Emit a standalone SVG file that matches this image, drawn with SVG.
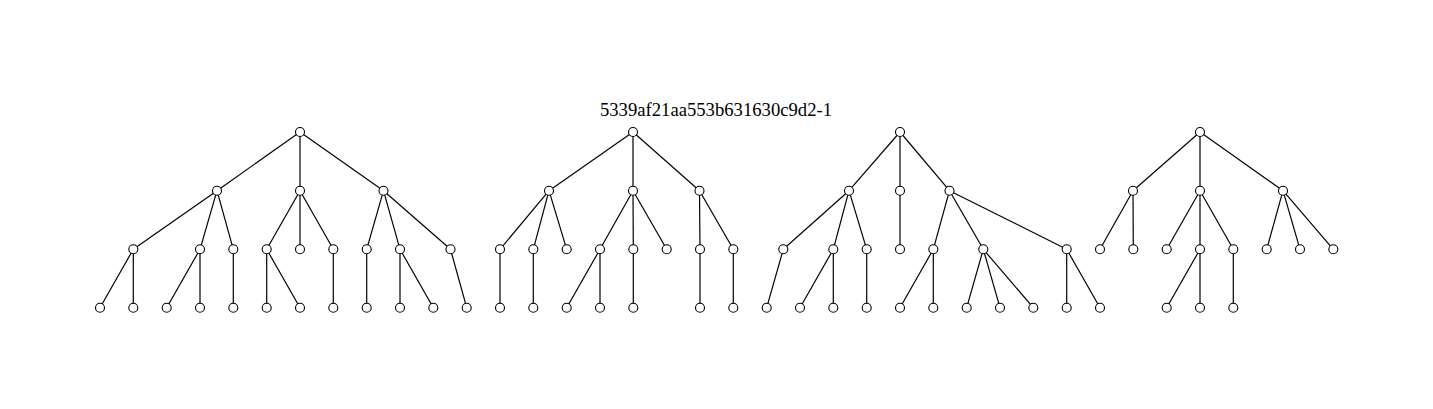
<svg xmlns="http://www.w3.org/2000/svg" width="1433" height="409" viewBox="0 0 1433 409">
<style>
.e line{stroke:#000;stroke-width:1.2;fill:none}
circle{fill:#fff;stroke:#000;stroke-width:1.1}
.t{font-family:"Liberation Serif","Times New Roman",serif;font-size:18.67px;fill:#000}
</style>
<rect width="1433" height="409" fill="#fff"/>
<text class="t" x="716" y="115.5" text-anchor="middle">5339af21aa553b631630c9d2-1</text>
<g class="e" id="connectors">
<!-- tree 1 -->
<line x1="300" y1="132" x2="217" y2="190.7"/>
<line x1="300" y1="132" x2="300" y2="190.7"/>
<line x1="300" y1="132" x2="383.5" y2="190.7"/>
<line x1="217" y1="190.7" x2="133.3" y2="249.3"/>
<line x1="217" y1="190.7" x2="200" y2="249.3"/>
<line x1="217" y1="190.7" x2="233.3" y2="249.3"/>
<line x1="300" y1="190.7" x2="266.7" y2="249.3"/>
<line x1="300" y1="190.7" x2="300" y2="249.3"/>
<line x1="300" y1="190.7" x2="333.3" y2="249.3"/>
<line x1="383.5" y1="190.7" x2="366.7" y2="249.3"/>
<line x1="383.5" y1="190.7" x2="400" y2="249.3"/>
<line x1="383.5" y1="190.7" x2="450.5" y2="249.3"/>
<line x1="133.3" y1="249.3" x2="100" y2="307.7"/>
<line x1="133.3" y1="249.3" x2="133.3" y2="307.7"/>
<line x1="200" y1="249.3" x2="166.7" y2="307.7"/>
<line x1="200" y1="249.3" x2="200" y2="307.7"/>
<line x1="233.3" y1="249.3" x2="233.3" y2="307.7"/>
<line x1="266.7" y1="249.3" x2="266.7" y2="307.7"/>
<line x1="266.7" y1="249.3" x2="300" y2="307.7"/>
<line x1="333.3" y1="249.3" x2="333.3" y2="307.7"/>
<line x1="366.7" y1="249.3" x2="366.7" y2="307.7"/>
<line x1="400" y1="249.3" x2="400" y2="307.7"/>
<line x1="400" y1="249.3" x2="433.3" y2="307.7"/>
<line x1="450.5" y1="249.3" x2="466.7" y2="307.7"/>
<!-- tree 2 -->
<line x1="633" y1="132" x2="549" y2="190.7"/>
<line x1="633" y1="132" x2="633" y2="190.7"/>
<line x1="633" y1="132" x2="699.5" y2="190.7"/>
<line x1="549" y1="190.7" x2="500" y2="249.3"/>
<line x1="549" y1="190.7" x2="533.3" y2="249.3"/>
<line x1="549" y1="190.7" x2="566.7" y2="249.3"/>
<line x1="633" y1="190.7" x2="600" y2="249.3"/>
<line x1="633" y1="190.7" x2="633.3" y2="249.3"/>
<line x1="633" y1="190.7" x2="666.7" y2="249.3"/>
<line x1="699.5" y1="190.7" x2="700" y2="249.3"/>
<line x1="699.5" y1="190.7" x2="733.3" y2="249.3"/>
<line x1="500" y1="249.3" x2="500" y2="307.7"/>
<line x1="533.3" y1="249.3" x2="533.3" y2="307.7"/>
<line x1="600" y1="249.3" x2="566.7" y2="307.7"/>
<line x1="600" y1="249.3" x2="600" y2="307.7"/>
<line x1="633.3" y1="249.3" x2="633.3" y2="307.7"/>
<line x1="700" y1="249.3" x2="700" y2="307.7"/>
<line x1="733.3" y1="249.3" x2="733.3" y2="307.7"/>
<!-- tree 3 -->
<line x1="900" y1="132" x2="849" y2="190.7"/>
<line x1="900" y1="132" x2="900" y2="190.7"/>
<line x1="900" y1="132" x2="949.5" y2="190.7"/>
<line x1="849" y1="190.7" x2="783.3" y2="249.3"/>
<line x1="849" y1="190.7" x2="833.3" y2="249.3"/>
<line x1="849" y1="190.7" x2="866.7" y2="249.3"/>
<line x1="900" y1="190.7" x2="900" y2="249.3"/>
<line x1="949.5" y1="190.7" x2="933.3" y2="249.3"/>
<line x1="949.5" y1="190.7" x2="983.3" y2="249.3"/>
<line x1="949.5" y1="190.7" x2="1066.7" y2="249.3"/>
<line x1="783.3" y1="249.3" x2="766.7" y2="307.7"/>
<line x1="833.3" y1="249.3" x2="800" y2="307.7"/>
<line x1="833.3" y1="249.3" x2="833.3" y2="307.7"/>
<line x1="866.7" y1="249.3" x2="866.7" y2="307.7"/>
<line x1="933.3" y1="249.3" x2="900" y2="307.7"/>
<line x1="933.3" y1="249.3" x2="933.3" y2="307.7"/>
<line x1="983.3" y1="249.3" x2="966.7" y2="307.7"/>
<line x1="983.3" y1="249.3" x2="1000" y2="307.7"/>
<line x1="983.3" y1="249.3" x2="1033.3" y2="307.7"/>
<line x1="1066.7" y1="249.3" x2="1066.7" y2="307.7"/>
<line x1="1066.7" y1="249.3" x2="1100" y2="307.7"/>
<!-- tree 4 -->
<line x1="1200" y1="132" x2="1133" y2="190.7"/>
<line x1="1200" y1="132" x2="1200" y2="190.7"/>
<line x1="1200" y1="132" x2="1283" y2="190.7"/>
<line x1="1133" y1="190.7" x2="1100" y2="249.3"/>
<line x1="1133" y1="190.7" x2="1133.3" y2="249.3"/>
<line x1="1200" y1="190.7" x2="1166.7" y2="249.3"/>
<line x1="1200" y1="190.7" x2="1200" y2="249.3"/>
<line x1="1200" y1="190.7" x2="1233.3" y2="249.3"/>
<line x1="1283" y1="190.7" x2="1266.7" y2="249.3"/>
<line x1="1283" y1="190.7" x2="1300" y2="249.3"/>
<line x1="1283" y1="190.7" x2="1333.3" y2="249.3"/>
<line x1="1200" y1="249.3" x2="1166.7" y2="307.7"/>
<line x1="1200" y1="249.3" x2="1200" y2="307.7"/>
<line x1="1233.3" y1="249.3" x2="1233.3" y2="307.7"/>
</g>
<g id="t1r"><circle cx="300" cy="132" r="4.5"/></g>
<g id="t1a"><circle cx="217" cy="190.7" r="4.5"/></g>
<g id="t1b"><circle cx="300" cy="190.7" r="4.5"/></g>
<g id="t1c"><circle cx="383.5" cy="190.7" r="4.5"/></g>
<g id="t1a1"><circle cx="133.3" cy="249.3" r="4.5"/></g>
<g id="t1a2"><circle cx="200" cy="249.3" r="4.5"/></g>
<g id="t1a3"><circle cx="233.3" cy="249.3" r="4.5"/></g>
<g id="t1b1"><circle cx="266.7" cy="249.3" r="4.5"/></g>
<g id="t1b2"><circle cx="300" cy="249.3" r="4.5"/></g>
<g id="t1b3"><circle cx="333.3" cy="249.3" r="4.5"/></g>
<g id="t1c1"><circle cx="366.7" cy="249.3" r="4.5"/></g>
<g id="t1c2"><circle cx="400" cy="249.3" r="4.5"/></g>
<g id="t1c3"><circle cx="450.5" cy="249.3" r="4.5"/></g>
<g id="t1l1"><circle cx="100" cy="307.7" r="4.5"/></g>
<g id="t1l2"><circle cx="133.3" cy="307.7" r="4.5"/></g>
<g id="t1l3"><circle cx="166.7" cy="307.7" r="4.5"/></g>
<g id="t1l4"><circle cx="200" cy="307.7" r="4.5"/></g>
<g id="t1l5"><circle cx="233.3" cy="307.7" r="4.5"/></g>
<g id="t1l6"><circle cx="266.7" cy="307.7" r="4.5"/></g>
<g id="t1l7"><circle cx="300" cy="307.7" r="4.5"/></g>
<g id="t1l8"><circle cx="333.3" cy="307.7" r="4.5"/></g>
<g id="t1l9"><circle cx="366.7" cy="307.7" r="4.5"/></g>
<g id="t1l10"><circle cx="400" cy="307.7" r="4.5"/></g>
<g id="t1l11"><circle cx="433.3" cy="307.7" r="4.5"/></g>
<g id="t1l12"><circle cx="466.7" cy="307.7" r="4.5"/></g>
<g id="t2r"><circle cx="633" cy="132" r="4.5"/></g>
<g id="t2a"><circle cx="549" cy="190.7" r="4.5"/></g>
<g id="t2b"><circle cx="633" cy="190.7" r="4.5"/></g>
<g id="t2c"><circle cx="699.5" cy="190.7" r="4.5"/></g>
<g id="t2a1"><circle cx="500" cy="249.3" r="4.5"/></g>
<g id="t2a2"><circle cx="533.3" cy="249.3" r="4.5"/></g>
<g id="t2a3"><circle cx="566.7" cy="249.3" r="4.5"/></g>
<g id="t2b1"><circle cx="600" cy="249.3" r="4.5"/></g>
<g id="t2b2"><circle cx="633.3" cy="249.3" r="4.5"/></g>
<g id="t2b3"><circle cx="666.7" cy="249.3" r="4.5"/></g>
<g id="t2c1"><circle cx="700" cy="249.3" r="4.5"/></g>
<g id="t2c2"><circle cx="733.3" cy="249.3" r="4.5"/></g>
<g id="t2l1"><circle cx="500" cy="307.7" r="4.5"/></g>
<g id="t2l2"><circle cx="533.3" cy="307.7" r="4.5"/></g>
<g id="t2l3"><circle cx="566.7" cy="307.7" r="4.5"/></g>
<g id="t2l4"><circle cx="600" cy="307.7" r="4.5"/></g>
<g id="t2l5"><circle cx="633.3" cy="307.7" r="4.5"/></g>
<g id="t2l6"><circle cx="700" cy="307.7" r="4.5"/></g>
<g id="t2l7"><circle cx="733.3" cy="307.7" r="4.5"/></g>
<g id="t3r"><circle cx="900" cy="132" r="4.5"/></g>
<g id="t3a"><circle cx="849" cy="190.7" r="4.5"/></g>
<g id="t3b"><circle cx="900" cy="190.7" r="4.5"/></g>
<g id="t3c"><circle cx="949.5" cy="190.7" r="4.5"/></g>
<g id="t3a1"><circle cx="783.3" cy="249.3" r="4.5"/></g>
<g id="t3a2"><circle cx="833.3" cy="249.3" r="4.5"/></g>
<g id="t3a3"><circle cx="866.7" cy="249.3" r="4.5"/></g>
<g id="t3b1"><circle cx="900" cy="249.3" r="4.5"/></g>
<g id="t3c1"><circle cx="933.3" cy="249.3" r="4.5"/></g>
<g id="t3c2"><circle cx="983.3" cy="249.3" r="4.5"/></g>
<g id="t3c3"><circle cx="1066.7" cy="249.3" r="4.5"/></g>
<g id="t3l1"><circle cx="766.7" cy="307.7" r="4.5"/></g>
<g id="t3l2"><circle cx="800" cy="307.7" r="4.5"/></g>
<g id="t3l3"><circle cx="833.3" cy="307.7" r="4.5"/></g>
<g id="t3l4"><circle cx="866.7" cy="307.7" r="4.5"/></g>
<g id="t3l5"><circle cx="900" cy="307.7" r="4.5"/></g>
<g id="t3l6"><circle cx="933.3" cy="307.7" r="4.5"/></g>
<g id="t3l7"><circle cx="966.7" cy="307.7" r="4.5"/></g>
<g id="t3l8"><circle cx="1000" cy="307.7" r="4.5"/></g>
<g id="t3l9"><circle cx="1033.3" cy="307.7" r="4.5"/></g>
<g id="t3l10"><circle cx="1066.7" cy="307.7" r="4.5"/></g>
<g id="t3l11"><circle cx="1100" cy="307.7" r="4.5"/></g>
<g id="t4r"><circle cx="1200" cy="132" r="4.5"/></g>
<g id="t4a"><circle cx="1133" cy="190.7" r="4.5"/></g>
<g id="t4b"><circle cx="1200" cy="190.7" r="4.5"/></g>
<g id="t4c"><circle cx="1283" cy="190.7" r="4.5"/></g>
<g id="t4a1"><circle cx="1100" cy="249.3" r="4.5"/></g>
<g id="t4a2"><circle cx="1133.3" cy="249.3" r="4.5"/></g>
<g id="t4b1"><circle cx="1166.7" cy="249.3" r="4.5"/></g>
<g id="t4b2"><circle cx="1200" cy="249.3" r="4.5"/></g>
<g id="t4b3"><circle cx="1233.3" cy="249.3" r="4.5"/></g>
<g id="t4c1"><circle cx="1266.7" cy="249.3" r="4.5"/></g>
<g id="t4c2"><circle cx="1300" cy="249.3" r="4.5"/></g>
<g id="t4c3"><circle cx="1333.3" cy="249.3" r="4.5"/></g>
<g id="t4l1"><circle cx="1166.7" cy="307.7" r="4.5"/></g>
<g id="t4l2"><circle cx="1200" cy="307.7" r="4.5"/></g>
<g id="t4l3"><circle cx="1233.3" cy="307.7" r="4.5"/></g>
</svg>
